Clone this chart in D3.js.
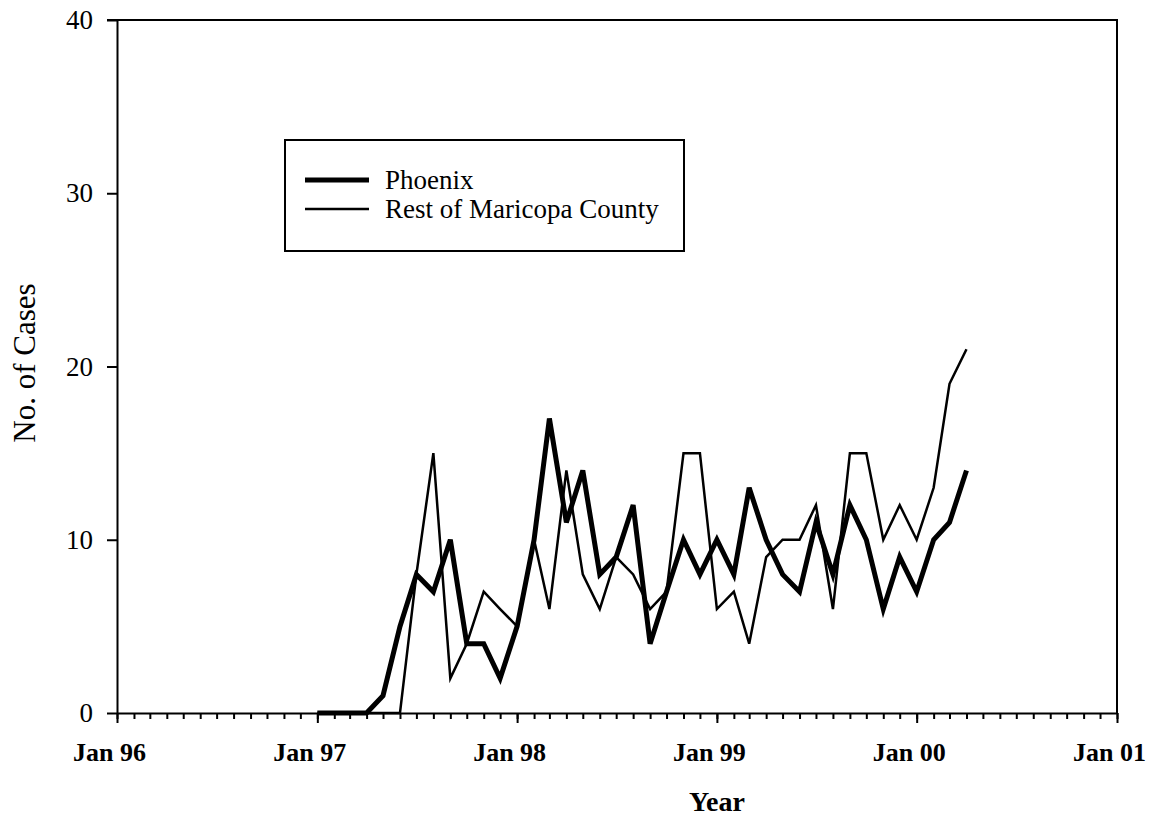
<!DOCTYPE html>
<html lang="en">
<head>
<meta charset="UTF-8" />
<title>Cases - Phoenix vs Rest of Maricopa County</title>
<script src="https://d3js.org/d3.v7.min.js"></script>
<style>
    body { margin: 0; background: #fff; }
    svg { display: block; font-family: "Liberation Serif", "Times New Roman", serif; }
    .axis path, .axis line { stroke: #000; stroke-width: 2; }
    .axis text { font-family: "Liberation Serif", "Times New Roman", serif; font-size: 26px; fill: #000; }
    .y-axis text { font-size: 27px; }
    .x-axis text { font-weight: bold; }
</style>
</head>
<body>
<div id="chart"></div>
<script>
    // monthly counts, Jan 97 .. Apr 00
    const firstMonth = new Date(1997, 0, 1);
    const phoenix = [0, 0, 0, 0, 1, 5, 8, 7, 10, 4, 4, 2,
                     5, 10, 17, 11, 14, 8, 9, 12, 4, 7, 10, 8,
                     10, 8, 13, 10, 8, 7, 11, 8, 12, 10, 6, 9,
                     7, 10, 11, 14];
    const restOfCounty = [0, 0, 0, 0, 0, 0, 8, 15, 2, 4, 7, 6,
                          5, 10, 6, 14, 8, 6, 9, 8, 6, 7, 15, 15,
                          6, 7, 4, 9, 10, 10, 12, 6, 15, 15, 10, 12,
                          10, 13, 19, 21];
    const yearTicks = [1996, 1997, 1998, 1999, 2000, 2001];
    const yearLabels = ["Jan 96", "Jan 97", "Jan 98", "Jan 99", "Jan 00", "Jan 01"];
    const yTicks = [0, 10, 20, 30, 40];
    const seriesNames = ["Phoenix", "Rest of Maricopa County"];

    const W = 1151, H = 823;
    const m = { left: 117, right: 34, top: 20, bottom: 110 };

    const svg = d3.select("#chart").append("svg")
        .attr("width", W)
        .attr("height", H);

    const x = d3.scaleTime()
        .domain([new Date(1996, 0, 1), new Date(2001, 0, 1)])
        .range([m.left, W - m.right]);

    const y = d3.scaleLinear()
        .domain([0, 40])
        .range([H - m.bottom, m.top]);

    const month = i => d3.timeMonth.offset(firstMonth, i);

    // frame: top and right edges
    svg.append("path")
        .attr("d", `M${m.left - 10},${y(40)}H${x.range()[1]}V${y(0)}`)
        .attr("fill", "none")
        .attr("stroke", "#000")
        .attr("stroke-width", 2);

    // minor monthly ticks
    svg.append("g")
        .attr("class", "axis")
        .attr("transform", `translate(0,${y(0)})`)
        .call(d3.axisBottom(x).ticks(d3.timeMonth.every(1)).tickSize(6).tickFormat(""))
        .call(g => g.select(".domain").remove());

    // major year ticks + labels
    const xAxis = svg.append("g")
        .attr("class", "axis x-axis")
        .attr("transform", `translate(0,${y(0)})`)
        .call(d3.axisBottom(x)
            .tickValues(yearTicks.map(yr => new Date(yr, 0, 1)))
            .tickSize(10)
            .tickSizeOuter(0)
            .tickPadding(20)
            .tickFormat((d, i) => yearLabels[i]));
    xAxis.selectAll("text").attr("dx", -8);

    svg.append("g")
        .attr("class", "axis y-axis")
        .attr("transform", `translate(${m.left},0)`)
        .call(d3.axisLeft(y).tickValues(yTicks).tickSize(10).tickSizeOuter(0).tickPadding(14));

    // axis titles
    svg.append("text")
        .attr("x", 717)
        .attr("y", 811)
        .attr("text-anchor", "middle")
        .attr("font-size", 28)
        .attr("font-weight", "bold")
        .text("Year");

    svg.append("text")
        .attr("transform", `translate(35,${363}) rotate(-90)`)
        .attr("text-anchor", "middle")
        .attr("font-size", 31)
        .text("No. of Cases");

    const line = d3.line()
        .x((d, i) => x(month(i)))
        .y(d => y(d));

    svg.append("path")
        .datum(restOfCounty)
        .attr("fill", "none")
        .attr("stroke", "#000")
        .attr("stroke-width", 2.5)
        .attr("stroke-linejoin", "miter")
        .attr("d", line);

    svg.append("path")
        .datum(phoenix)
        .attr("fill", "none")
        .attr("stroke", "#000")
        .attr("stroke-width", 5)
        .attr("stroke-linejoin", "miter")
        .attr("d", line);

    // legend
    const lg = svg.append("g");
    lg.append("rect")
        .attr("x", 285).attr("y", 140)
        .attr("width", 399).attr("height", 111)
        .attr("fill", "#fff")
        .attr("stroke", "#000")
        .attr("stroke-width", 2);

    seriesNames.forEach((name, i) => {
        const ly = 180 + i * 29;
        lg.append("line")
            .attr("x1", 305).attr("x2", 369)
            .attr("y1", ly).attr("y2", ly)
            .attr("stroke", "#000")
            .attr("stroke-width", i === 0 ? 5 : 2.5);
        lg.append("text")
            .attr("x", 385).attr("y", ly)
            .attr("dy", "0.35em")
            .attr("font-size", 27)
            .text(name);
    });
</script>
</body>
</html>
